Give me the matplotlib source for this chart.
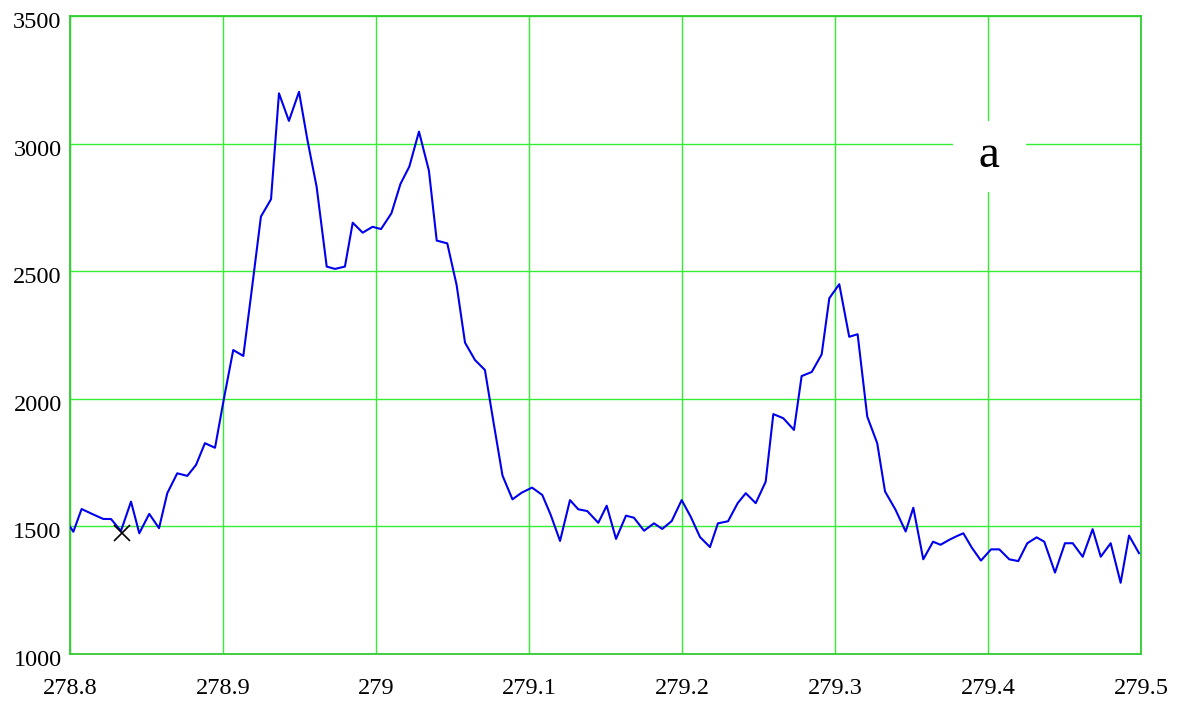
import matplotlib
matplotlib.use("Agg")
import matplotlib.pyplot as plt
import matplotlib.transforms as mtransforms

# spectrum
wl = [278.8000, 278.8022, 278.8076, 278.8144, 278.8218, 278.8268, 278.8333, 278.8399,
      278.8453, 278.8518, 278.8582, 278.8636, 278.8701, 278.8767, 278.8824, 278.8882,
      278.8948, 278.9007, 278.9067, 278.9133, 278.9188, 278.9248, 278.9314, 278.9366,
      278.9431, 278.9497, 278.9552, 278.9612, 278.9678, 278.9732, 278.9797, 278.9848,
      278.9913, 278.9978, 279.0033, 279.0101, 279.0160, 279.0218, 279.0281, 279.0346,
      279.0397, 279.0466, 279.0527, 279.0582, 279.0647, 279.0712, 279.0769, 279.0827,
      279.0892, 279.0952, 279.1020, 279.1087, 279.1142, 279.1203, 279.1268, 279.1322,
      279.1381, 279.1453, 279.1508, 279.1569, 279.1634, 279.1686, 279.1752, 279.1817,
      279.1871, 279.1933, 279.1998, 279.2057, 279.2118, 279.2183, 279.2235, 279.2301,
      279.2364, 279.2417, 279.2482, 279.2547, 279.2597, 279.2662, 279.2732, 279.2782,
      279.2848, 279.2913, 279.2963, 279.3028, 279.3093, 279.3148, 279.3211, 279.3276,
      279.3327, 279.3395, 279.3462, 279.3512, 279.3577, 279.3641, 279.3690, 279.3752,
      279.3797, 279.3839, 279.3894, 279.3954, 279.4020, 279.4074, 279.4139, 279.4198,
      279.4257, 279.4318, 279.4368, 279.4438, 279.4503, 279.4554, 279.4619, 279.4684,
      279.4737, 279.4802, 279.4867, 279.4922, 279.4987]
counts = [1499, 1479, 1568, 1549, 1529, 1529, 1482, 1597,
          1473, 1549, 1493, 1630, 1708, 1698, 1741, 1826,
          1808, 2003, 2191, 2168, 2426, 2714, 2782, 3197,
          3089, 3203, 3014, 2831, 2518, 2509, 2518, 2690,
          2651, 2674, 2665, 2727, 2842, 2910, 3047, 2894,
          2620, 2609, 2446, 2220, 2152, 2113, 1905, 1699,
          1606, 1632, 1652, 1623, 1545, 1443, 1603, 1567,
          1560, 1514, 1581, 1451, 1542, 1534, 1483, 1512,
          1490, 1521, 1603, 1538, 1458, 1419, 1512, 1520,
          1591, 1630, 1591, 1675, 1940, 1924, 1878, 2089,
          2105, 2174, 2394, 2449, 2243, 2253, 1930, 1826,
          1637, 1566, 1480, 1573, 1371, 1440, 1428, 1449,
          1462, 1473, 1417, 1366, 1410, 1410, 1371, 1364,
          1434, 1457, 1440, 1319, 1434, 1434, 1381, 1489,
          1381, 1434, 1279, 1464, 1395]

mark_x, mark_y = [278.834], [1474]

xticks = [278.8, 278.9, 279.0, 279.1, 279.2, 279.3, 279.4, 279.5]
xlabels = ["278.8", "278.9", "279", "279.1", "279.2", "279.3", "279.4", "279.5"]
yticks = [1000, 1500, 2000, 2500, 3000, 3500]

plt.rcParams['font.family'] = ['Liberation Serif', 'DejaVu Serif']

fig = plt.figure(figsize=(11.82, 7.02), dpi=100)
ax = fig.add_axes([0.0592, 0.0684, 0.9061, 0.9088])

ax.plot(wl, counts, color='#0000ee', lw=1.5, zorder=3)
ax.plot(mark_x, mark_y, 'x', color='black', markersize=11, mew=1.2, zorder=4)

ax.set_xlim(278.8, 279.5)
ax.set_ylim(1000, 3500)
ax.set_xticks(xticks)
ax.set_xticklabels(xlabels)
ax.set_yticks(yticks)
ax.grid(True, color='#33ee33', lw=1.0, zorder=1)
ax.set_axisbelow(True)
for s in ax.spines.values():
    s.set_color('#33cc33')
    s.set_linewidth(1.3)
ax.tick_params(length=0, labelsize=17.5, pad=17)
ax.tick_params(axis='y', pad=6)

# y labels sit a little below their grid lines in the original
shift = mtransforms.ScaledTranslation(0, -4 / 100, fig.dpi_scale_trans)
for lab in ax.get_yticklabels():
    lab.set_transform(lab.get_transform() + shift)

ax.annotate(" a ", xy=(279.4, 3000), xytext=(1, -9), textcoords='offset points',
            fontsize=34, ha='center', va='center', zorder=5,
            bbox=dict(boxstyle='square,pad=0.3', fc='white', ec='none'))

fig.savefig("out.png", dpi=100)
